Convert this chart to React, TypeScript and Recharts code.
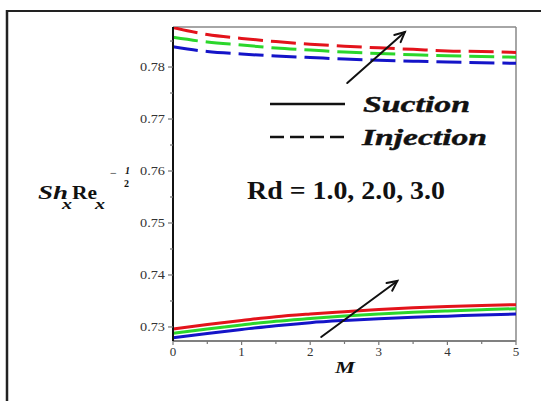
import React from 'react';
import { LineChart, Line, XAxis, YAxis, ReferenceLine } from 'recharts';

// magnetic parameter M
const mValues = [0, 0.5, 1, 1.5, 2, 2.5, 3, 3.5, 4, 4.5, 5];

// Sh_x Re_x^(-1/2), suction branch, Rd = 1.0 / 2.0 / 3.0
const suctionRd1 = [0.72794, 0.72875, 0.72952, 0.73025, 0.73083, 0.73125, 0.7316, 0.73187, 0.73208, 0.73231, 0.7325];
const suctionRd2 = [0.72879, 0.72962, 0.73038, 0.7311, 0.73163, 0.73212, 0.7325, 0.73283, 0.73308, 0.73331, 0.73352];
const suctionRd3 = [0.72962, 0.73048, 0.73125, 0.73198, 0.7325, 0.73294, 0.73337, 0.73371, 0.73396, 0.73415, 0.73429];

// injection branch, Rd = 1.0 / 2.0 / 3.0
const injectionRd1 = [0.7839, 0.78298, 0.7825, 0.78212, 0.78183, 0.78154, 0.78131, 0.78112, 0.78096, 0.78083, 0.78071];
const injectionRd2 = [0.78571, 0.78481, 0.78423, 0.78365, 0.78327, 0.78288, 0.7826, 0.78237, 0.78217, 0.78204, 0.78188];
const injectionRd3 = [0.7876, 0.78625, 0.7855, 0.7849, 0.7844, 0.784, 0.7837, 0.7834, 0.7831, 0.783, 0.7828];

const xTicks = [0, 0.5, 1, 1.5, 2, 2.5, 3, 3.5, 4, 4.5, 5];
const yTicks = [0.73, 0.735, 0.74, 0.745, 0.75, 0.755, 0.76, 0.765, 0.77, 0.775, 0.78, 0.785];
const yDomain = [0.7273, 0.7877];

const RED = '#e3131b';
const GREEN = '#2bd62b';
const BLUE = '#1414c8';

const serif = 'Liberation Serif, Tinos, Times New Roman, Times, serif';

const data = mValues.map((m, i) => ({
  M: m,
  s1: suctionRd1[i],
  s2: suctionRd2[i],
  s3: suctionRd3[i],
  j1: injectionRd1[i],
  j2: injectionRd2[i],
  j3: injectionRd3[i],
}));

const isWhole = (v: number, step: number) => Math.abs(v / step - Math.round(v / step)) < 1e-6;

const YTick = (props: any) => {
  const { x, y, payload } = props;
  const v = payload.value;
  const major = isWhole(v, 0.01);
  return (
    <g>
      <line x1={x - (major ? 5 : 3)} x2={x} y1={y} y2={y} stroke="#777" strokeWidth={1.2} />
      {major && (
        <text x={x - 8} y={y + 4} textAnchor="end" fontFamily={serif} fontSize={12}
          fill="#333" textLength={25} lengthAdjust="spacingAndGlyphs">
          {v.toFixed(2)}
        </text>
      )}
    </g>
  );
};

const XTick = (props: any) => {
  const { x, y, payload } = props;
  const v = payload.value;
  const major = isWhole(v, 1);
  return (
    <g>
      <line x1={x} x2={x} y1={y} y2={y + (major ? 4 : 3)} stroke="#777" strokeWidth={1.2} />
      {major && (
        <text x={x} y={y + 15} textAnchor="middle" fontFamily={serif} fontSize={13} fill="#333">
          {v}
        </text>
      )}
    </g>
  );
};

// straight line with an open arrow head at the far end
const ArrowShape = (props: any) => {
  const { x1, y1, x2, y2 } = props;
  const ang = Math.atan2(y2 - y1, x2 - x1);
  const len = 11;
  const spread = 0.45;
  const hx1 = x2 - len * Math.cos(ang - spread);
  const hy1 = y2 - len * Math.sin(ang - spread);
  const hx2 = x2 - len * Math.cos(ang + spread);
  const hy2 = y2 - len * Math.sin(ang + spread);
  return (
    <g stroke="#111" strokeWidth={2} fill="none" strokeLinecap="round">
      <line x1={x1} y1={y1} x2={x2} y2={y2} />
      <polyline points={`${hx1},${hy1} ${x2},${y2} ${hx2},${hy2}`} />
    </g>
  );
};

export default function App() {
  return (
    <div style={{ position: 'absolute', left: 0, top: 0, width: 541, height: 401, background: '#fff' }}>
      <LineChart width={541} height={401} data={data} margin={{ top: 27, right: 25, bottom: 30, left: 113 }}>
        <XAxis dataKey="M" type="number" domain={[0, 5]} ticks={xTicks} interval={0} tick={<XTick />}
          tickLine={false} tickSize={0} tickMargin={0} height={30} axisLine={{ stroke: '#808080', strokeWidth: 2 }} />
        <YAxis type="number" domain={yDomain} allowDataOverflow ticks={yTicks} interval={0} tick={<YTick />}
          tickLine={false} tickSize={0} tickMargin={0} width={60} axisLine={{ stroke: '#111', strokeWidth: 2 }} />
        <ReferenceLine y={yDomain[1]} stroke="#888" strokeWidth={1.5} />
        <ReferenceLine x={5} stroke="#888" strokeWidth={1.5} />

        <Line dataKey="s1" type="monotone" stroke={BLUE} strokeWidth={3} dot={false} isAnimationActive={false} />
        <Line dataKey="s2" type="monotone" stroke={GREEN} strokeWidth={3} dot={false} isAnimationActive={false} />
        <Line dataKey="s3" type="monotone" stroke={RED} strokeWidth={3} dot={false} isAnimationActive={false} />
        <Line dataKey="j1" type="monotone" stroke={BLUE} strokeWidth={3} strokeDasharray="25 8" dot={false} isAnimationActive={false} />
        <Line dataKey="j2" type="monotone" stroke={GREEN} strokeWidth={3} strokeDasharray="25 8" dot={false} isAnimationActive={false} />
        <Line dataKey="j3" type="monotone" stroke={RED} strokeWidth={3} strokeDasharray="25 8" dot={false} isAnimationActive={false} />

        {/* increasing Rd */}
        <ReferenceLine segment={[{ x: 2.54, y: 0.77692 }, { x: 3.38, y: 0.78673 }]} ifOverflow="visible" shape={ArrowShape} />
        <ReferenceLine segment={[{ x: 2.16, y: 0.72808 }, { x: 3.27, y: 0.73885 }]} ifOverflow="visible" shape={ArrowShape} />
      </LineChart>

      <svg width={541} height={401} style={{ position: 'absolute', left: 0, top: 0, pointerEvents: 'none' }}>
        {/* outer frame */}
        <line x1={6} y1={11} x2={541} y2={11} stroke="#222" strokeWidth={2} />
        <line x1={7} y1={10} x2={7} y2={401} stroke="#222" strokeWidth={2.5} />

        {/* legend */}
        <line x1={270} y1={104} x2={345} y2={104} stroke="#111" strokeWidth={2.5} />
        <line x1={270} y1={137} x2={350} y2={137} stroke="#111" strokeWidth={2.5} strokeDasharray="14 6" />
        <text x={363} y={112} fontFamily={serif} fontSize={23} fontWeight="bold" fontStyle="italic" fill="#111"
          stroke="#111" strokeWidth={0.4} textLength={107} lengthAdjust="spacingAndGlyphs">Suction</text>
        <text x={362} y={145} fontFamily={serif} fontSize={23} fontWeight="bold" fontStyle="italic" fill="#111"
          stroke="#111" strokeWidth={0.4} textLength={125} lengthAdjust="spacingAndGlyphs">Injection</text>

        <text x={247} y={199} fontFamily={serif} fontSize={25} fontWeight="bold" fill="#111"
          textLength={198} lengthAdjust="spacingAndGlyphs">Rd = 1.0, 2.0, 3.0</text>

        {/* y-axis title: Sh_x Re_x^(-1/2) */}
        <g fontFamily={serif} fontWeight="bold" fill="#111">
          <text x={38} y={199} fontSize={19} fontStyle="italic" textLength={30} lengthAdjust="spacingAndGlyphs">Sh</text>
          <text x={62} y={209} fontSize={15} fontStyle="italic" textLength={10} lengthAdjust="spacingAndGlyphs">x</text>
          <text x={72} y={199} fontSize={19} textLength={25} lengthAdjust="spacingAndGlyphs">Re</text>
          <text x={95} y={209} fontSize={15} fontStyle="italic" textLength={10} lengthAdjust="spacingAndGlyphs">x</text>
          <text x={110} y={177} fontSize={12} fontWeight="normal">−</text>
          <text x={125} y={174} fontSize={10} fontStyle="italic">1</text>
          <text x={124} y={187} fontSize={10}>2</text>
        </g>

        <text x={335} y={373} fontFamily={serif} fontSize={17} fontWeight="bold" fontStyle="italic" fill="#111"
          textLength={20} lengthAdjust="spacingAndGlyphs">M</text>
      </svg>
    </div>
  );
}
